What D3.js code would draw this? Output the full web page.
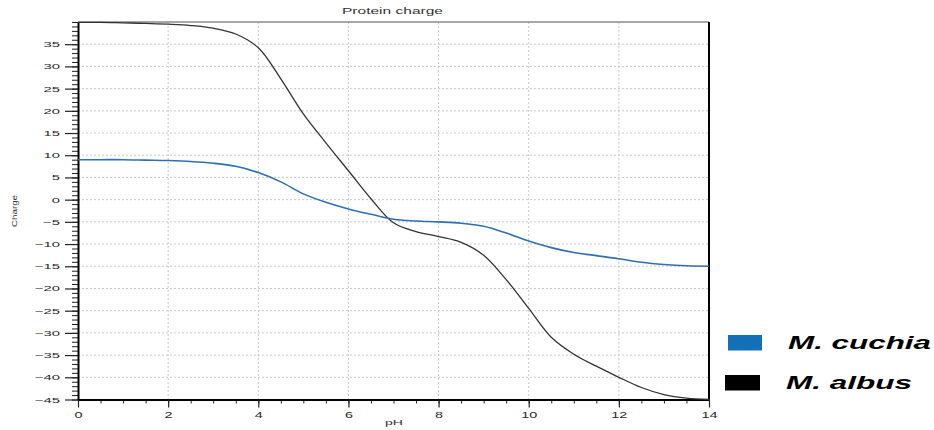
<!DOCTYPE html>
<html>
<head>
<meta charset="utf-8">
<script src="https://cdn.jsdelivr.net/npm/d3@7"></script>
<style>
  html, body { margin: 0; padding: 0; background: #fff; }
  svg { display: block; font-family: "Liberation Sans", Arial, sans-serif; }
</style>
</head>
<body>
<svg id="chart" width="934" height="430"></svg>
<script>
// ---- data ----
const pH = [0,0.5,1,1.5,2,2.5,3,3.5,4,4.5,5,5.5,6,6.5,7,7.5,8,8.5,9,9.5,10,10.5,11,11.5,12,12.5,13,13.5,14];
const cuchia = [9,9,9,8.9,8.8,8.6,8.2,7.5,6.1,4,1.3,-0.6,-2.1,-3.3,-4.4,-4.8,-5,-5.3,-6,-7.5,-9.3,-10.8,-11.9,-12.6,-13.3,-14.1,-14.6,-14.9,-15];
const albus = [39.9,39.9,39.8,39.7,39.5,39.2,38.6,37.3,34.2,27.2,19.3,12.8,6.5,0.2,-5.2,-7.2,-8.3,-9.6,-12.5,-18,-24.5,-31,-34.8,-37.5,-40,-42.3,-43.9,-44.7,-45];
const xTicks = [0,2,4,6,8,10,12,14];
const yTicks = [-45,-40,-35,-30,-25,-20,-15,-10,-5,0,5,10,15,20,25,30,35];
const seriesNames = ["M. cuchia", "M. albus"];
const seriesColors = ["#1170b8", "#000000"];
const lineColors = ["#2f6fb0", "#333333"];
const title = "Protein charge";
const xLabel = "pH";
const yLabel = "Charge";

// ---- layout ----
const svg = d3.select("#chart");
const x = d3.scaleLinear().domain([0, 14]).range([78, 709]);
const y = d3.scaleLinear().domain([-45, 40]).range([399.5, 22]);

// grid
const grid = svg.append("g").attr("stroke", "#c8c8c8").attr("stroke-width", 1).attr("stroke-dasharray", "2,2");
grid.selectAll("line.v").data(xTicks.filter(d => d > 0 && d < 14)).join("line")
  .attr("x1", d => x(d)).attr("x2", d => x(d)).attr("y1", y(40)).attr("y2", y(-45));
grid.selectAll("line.h").data(yTicks.filter(d => d > -45)).join("line")
  .attr("y1", d => y(d)).attr("y2", d => y(d)).attr("x1", x(0)).attr("x2", x(14));

// frame: top (gray) and right (black)
svg.append("line").attr("x1", x(0)).attr("x2", x(14)).attr("y1", y(40)).attr("y2", y(40))
  .attr("stroke", "#8a8a8a").attr("stroke-width", 1.5);
svg.append("line").attr("x1", x(14)).attr("x2", x(14)).attr("y1", y(40)).attr("y2", y(-45))
  .attr("stroke", "#000").attr("stroke-width", 2);

// minor ticks
const yMinor = d3.range(-45, 41, 1);
const xMinor = d3.range(0, 14.01, 0.5);
svg.append("g").attr("transform", `translate(${x(0)},0)`)
  .call(d3.axisLeft(y).tickValues(yMinor).tickSize(6).tickSizeOuter(0).tickFormat(""))
  .call(g => g.select(".domain").remove())
  .call(g => g.selectAll("line").attr("stroke", "#222").attr("stroke-width", 1));
svg.append("g").attr("transform", `translate(0,${y(-45)})`)
  .call(d3.axisBottom(x).tickValues(xMinor).tickSize(4).tickSizeOuter(0).tickFormat(""))
  .call(g => g.select(".domain").remove())
  .call(g => g.selectAll("line").attr("stroke", "#222").attr("stroke-width", 1));

// y axis
const ySx = 1.9;
svg.append("g").attr("transform", `translate(${x(0)},0)`)
  .call(d3.axisLeft(y).tickValues(yTicks).tickSize(13).tickSizeOuter(0).tickPadding(5))
  .call(g => g.select(".domain").attr("stroke", "#000").attr("stroke-width", 2))
  .call(g => g.selectAll(".tick line").attr("stroke", "#222").attr("stroke-width", 1.2))
  .call(g => g.selectAll(".tick text")
      .attr("font-size", 7.8).attr("fill", "#2a2a2a").attr("font-family", "Liberation Sans, Arial, sans-serif")
      .attr("x", -18 / ySx).attr("transform", `scale(${ySx},1)`));

// x axis
const xSx = 1.7;
svg.append("g").attr("transform", `translate(0,${y(-45)})`)
  .call(d3.axisBottom(x).tickValues(xTicks).tickSize(8).tickSizeOuter(0).tickPadding(4))
  .call(g => g.select(".domain").attr("stroke", "#000").attr("stroke-width", 1.8))
  .call(g => g.selectAll(".tick line").attr("stroke", "#222").attr("stroke-width", 1.2))
  .call(g => g.selectAll(".tick text")
      .attr("font-size", 8.5).attr("fill", "#2a2a2a").attr("font-family", "Liberation Sans, Arial, sans-serif")
      .attr("transform", `scale(${xSx},1)`));

// lines
const line = d3.line().curve(d3.curveCatmullRom.alpha(0.5));
const series = [cuchia, albus];
[1, 0].forEach(i => {
  svg.append("path")
    .attr("d", line(pH.map((p, j) => [x(p), y(series[i][j])])))
    .attr("fill", "none")
    .attr("stroke", lineColors[i])
    .attr("stroke-width", i === 0 ? 1.6 : 1.3);
});

// title & axis labels
svg.append("text").attr("x", 342).attr("y", 13.5).attr("font-size", 8.5).attr("fill", "#333")
  .attr("textLength", 101).attr("lengthAdjust", "spacingAndGlyphs").text(title);
svg.append("text").attr("x", 385).attr("y", 425).attr("font-size", 8).attr("fill", "#333")
  .attr("textLength", 18).attr("lengthAdjust", "spacingAndGlyphs").text(xLabel);
svg.append("text").attr("transform", "translate(16.5,227) rotate(-90)").attr("font-size", 6.5).attr("fill", "#333")
  .attr("textLength", 32).attr("lengthAdjust", "spacingAndGlyphs").text(yLabel);

// legend
const legY = [335, 375];
const legRectX = [728, 725];
const legRectW = [34, 35];
const legTextLen = [143, 126];
const legTextX = [788, 786];
seriesNames.forEach((name, i) => {
  svg.append("rect").attr("x", legRectX[i]).attr("y", legY[i]).attr("width", legRectW[i]).attr("height", 15.5)
    .attr("fill", seriesColors[i]);
  svg.append("text").attr("x", legTextX[i]).attr("y", legY[i] + 13.5)
    .attr("font-size", 17.5).attr("font-weight", "bold").attr("font-style", "italic").attr("fill", "#000")
    .attr("textLength", legTextLen[i]).attr("lengthAdjust", "spacingAndGlyphs").text(name);
});
</script>
</body>
</html>
